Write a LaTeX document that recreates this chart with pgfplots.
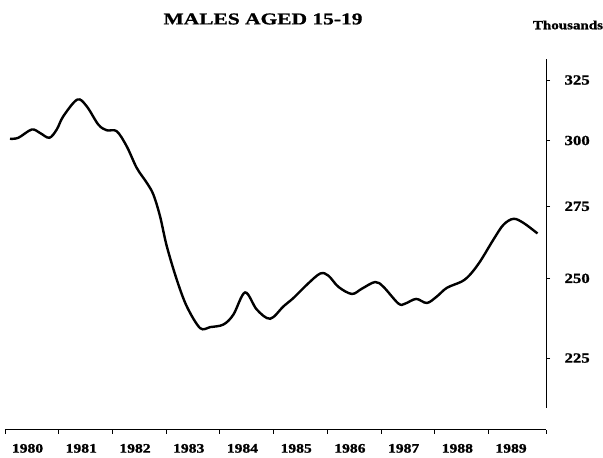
\documentclass[border=0pt]{standalone}
\usepackage{fontspec}
\setmainfont{Liberation Serif}
\newfontfamily\tickfont[FakeStretch=1.2, BoldFeatures={FakeBold=1.2}]{Liberation Serif}
\newfontfamily\titlefont[FakeStretch=1.3, BoldFeatures={FakeBold=1.0}]{Liberation Serif}
\usepackage{pgfplots}
\pgfplotsset{compat=1.18}
\pgfplotstableread{
x y
0.093 300.7
0.248 301.1
0.497 304.4
0.652 303.0
0.825 301.1
0.963 304.4
1.086 309.8
1.346 316.7
1.521 313.9
1.737 306.4
1.894 304.1
2.080 303.7
2.266 297.7
2.453 289.3
2.639 283.7
2.762 279.3
2.886 271.4
3.011 260.9
3.197 249.6
3.384 240.9
3.631 234.1
3.817 234.4
4.065 235.2
4.251 238.3
4.469 245.4
4.687 239.9
4.935 237.0
5.182 240.9
5.369 243.6
5.618 247.9
5.866 251.6
6.020 250.9
6.207 247.2
6.456 244.9
6.642 246.6
6.890 248.8
7.045 247.2
7.324 241.8
7.449 241.8
7.654 243.3
7.853 242.0
8.039 244.1
8.225 246.9
8.505 249.0
8.659 251.3
8.845 255.7
9.093 263.2
9.279 268.4
9.466 270.5
9.652 269.0
9.912 265.3
}\males
\begin{document}
\begin{tikzpicture}
\path[use as bounding box] (-5pt,-28pt) rectangle (598pt,430pt);
\begin{axis}[
  at={(0pt,0pt)}, anchor=south west,
  scale only axis, width=541pt, height=371pt,
  xmin=0, xmax=10.07,
  ymode=log, ymin=204.6, ymax=334.2,
  axis x line=bottom, axis y line=right,
  x axis line style={-, line width=1pt},
  y axis line style={-, line width=1pt, shorten <=22pt},
  xtick={0,1,2,3,4,5,6,7,8,9,10.07}, xticklabels={},
  extra x ticks={0.42,1.42,2.42,3.42,4.42,5.42,6.42,7.42,8.42,9.42},
  extra x tick labels={1980,1981,1982,1983,1984,1985,1986,1987,1988,1989},
  extra x tick style={major tick length=0pt, tick style={draw=none}},
  ytick={225,250,275,300,325},
  yticklabels={225,250,275,300,325},
  minor ytick={},
  tick align=outside, major tick length=4pt,
  tick style={line width=0.9pt, black},
  xticklabel style={yshift=-10.5pt, font=\tickfont\bfseries\fontsize{13}{13}\selectfont},
  yticklabel style={xshift=11pt, font=\tickfont\bfseries\fontsize{14}{14}\selectfont},
  clip=false,
]
\addplot[black, line width=2.4pt, smooth, tension=0.55] table[x=x,y=y] {\males};
\end{axis}
\node[font=\titlefont\bfseries\fontsize{16.5}{16.5}\selectfont] at (258pt,411pt) {MALES AGED 15-19};
\node[font=\tickfont\bfseries\fontsize{12.5}{12.5}\selectfont] at (563pt,405pt) {Thousands};
\end{tikzpicture}
\end{document}
